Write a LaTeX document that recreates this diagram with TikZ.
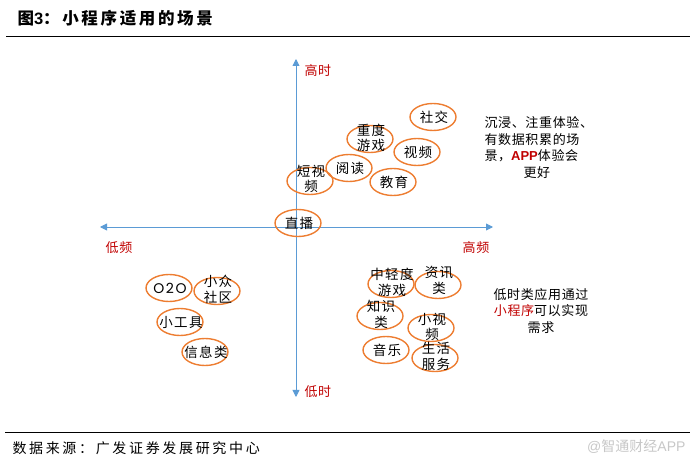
\documentclass[tikz,border=0pt]{standalone}
\usepackage{fontspec}
\setmainfont{Liberation Sans}
\newfontfamily\cjk{Noto Sans CJK SC}
\newfontfamily\cjkn[LetterSpace=5]{Noto Sans CJK SC}
\newfontfamily\cjkl[LetterSpace=10]{Noto Sans CJK SC}
\newfontfamily\cjkt[LetterSpace=16]{Noto Sans CJK SC}
\newfontfamily\cjkw[LetterSpace=19]{Noto Sans CJK SC}
\newfontfamily\geo[LetterSpace=12]{Poppins}
\usetikzlibrary{arrows.meta,shapes.geometric}
\definecolor{axisblue}{HTML}{5B9BD5}
\definecolor{ellorange}{HTML}{ED7D31}
\definecolor{lblred}{HTML}{C00000}
\begin{document}
\begin{tikzpicture}[x=1pt,y=-1pt,
  axis/.style={axisblue, line width=0.9pt, -{Triangle[length=7pt,width=7pt]}},
  scen/.style={draw=ellorange, line width=1.4pt, ellipse, minimum width=46pt, minimum height=27pt, inner sep=0pt},
  lbl/.style={font=\cjkl\fontsize{13.5}{15.5}\selectfont, text=black, align=center},
  axlbl/.style={font=\cjkn\fontsize{13}{14}\selectfont, text=lblred},
  note/.style={font=\cjkn\fontsize{13}{16.5}\selectfont}
]
\useasboundingbox (0,0) rectangle (694,462);
% title
\node[anchor=west, font=\cjkt\bfseries\fontsize{16.5}{18}\selectfont] (title) at (14,18) {图{\rmfamily 3}：小程序适用的场景};
\draw[line width=1pt] (6,37) -- (690,37);
\draw[line width=1pt] (5,433) -- (690,433);
\node[anchor=west, font=\cjkw\fontsize{14}{15}\selectfont] (src) at (9,448) {数据来源：广发证券发展研究中心};
\node[anchor=east, font=\fontsize{14}{15}\selectfont, text=black!22] (wm) at (689,447) {@{\cjk 智通财经}APP};
% axes
\coordinate (vtop) at (296,59);
\coordinate (vbot) at (296,397);
\coordinate (hl) at (100,227);
\coordinate (hr) at (493,227);
\coordinate (o) at (296,227);
\draw[axis] (o) -- (vtop);
\draw[axis] (o) -- (vbot);
\draw[axis] (o) -- (hl);
\draw[axis] (o) -- (hr);
\node[axlbl, anchor=west] (gs) at (301,71) {高时};
\node[axlbl, anchor=west] (ds) at (301,392) {低时};
\node[axlbl] (dp) at (119,248) {低频};
\node[axlbl] (gp) at (476,248) {高频};
% ellipses upper
\node[scen] (e1) at (433,117) {};
\node[lbl] at ([xshift=1pt]e1) {社交};
\node[scen] (e2) at (370,139) {};
\node[lbl] at ([xshift=1pt,yshift=1pt]e2) {重度\\游戏};
\node[scen] (e3) at (417,152) {};
\node[lbl] at ([xshift=1pt]e3) {视频};
\node[scen] (e4) at (349,168) {};
\node[lbl] at ([xshift=1pt]e4) {阅读};
\node[scen] (e5) at (310,181) {};
\node[lbl] at ([xshift=1pt,yshift=2pt]e5) {短视\\频};
\node[scen] (e6) at (393,182) {};
\node[lbl] at ([xshift=1pt]e6) {教育};
\node[scen] (e7) at (298,223) {};
\node[lbl] at ([xshift=1pt]e7) {直播};
% lower left
\node[scen] (f1) at (169,288) {};
\node[font=\geo\fontsize{14}{15}\selectfont] at ([xshift=1pt]f1) {O2O};
\node[scen] (f2) at (217,291) {};
\node[lbl] at ([xshift=1pt,yshift=1.5pt]f2) {小众\\社区};
\node[scen] (f3) at (180,322) {};
\node[lbl] at ([xshift=1pt]f3) {小工具};
\node[scen] (f4) at (205,352) {};
\node[lbl] at ([xshift=1pt]f4) {信息类};
% lower right
\node[scen] (g1) at (391,284) {};
\node[lbl] at ([xshift=1pt,yshift=1.5pt]g1) {中轻度\\游戏};
\node[scen] (g2) at (438,285) {};
\node[lbl] at ([xshift=1pt,yshift=4.5pt]g2) {资讯\\类};
\node[scen] (g3) at (380,316) {};
\node[lbl] at ([xshift=1pt,yshift=1.5pt]g3) {知识\\类};
\node[scen] (g4) at (431,328) {};
\node[lbl] at ([xshift=1pt,yshift=1pt]g4) {小视\\频};
\node[scen] (g5) at (386,350) {};
\node[lbl] at ([xshift=1pt]g5) {音乐};
\node[scen] (g6) at (435,358) {};
\node[lbl] at ([xshift=1pt,yshift=1.5pt]g6) {生活\\服务};
% notes
\node[note, align=left, anchor=north west] (n1) at (481,113) {沉浸、注重体验、\\有数据积累的场\\景，{\rmfamily\bfseries\fontsize{13}{14}\selectfont\color{lblred}APP}体验会\\\hspace*{3em}更好};
\node[note, align=center] (n2) at (541,311) {低时类应用通过\\{\color{lblred}小程序}可以实现\\需求};
\end{tikzpicture}
\end{document}
